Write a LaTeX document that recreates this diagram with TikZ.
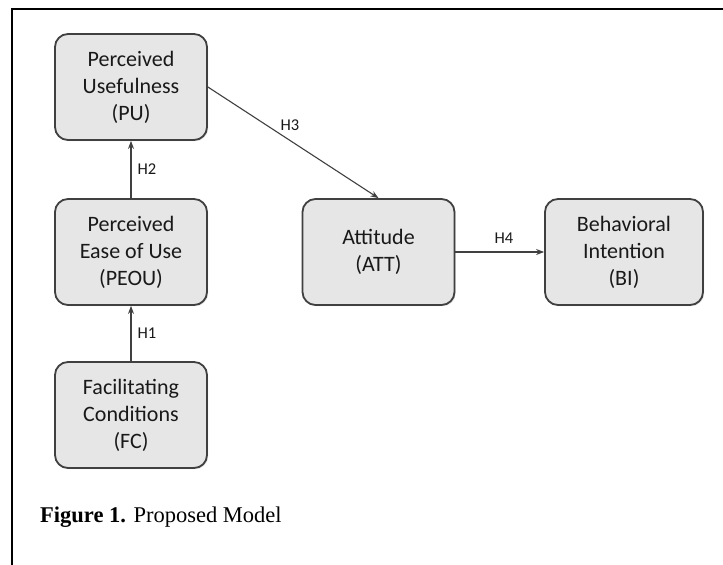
\documentclass[tikz,border=0pt]{standalone}
\usepackage{fontspec}
\setmainfont{Liberation Serif}
\newfontfamily\boxfont{Carlito}
\usetikzlibrary{arrows.meta,shadows}
\definecolor{boxfill}{HTML}{E6E6E6}
\definecolor{boxline}{HTML}{404040}
\tikzset{
  construct/.style={draw=boxline, line width=1.8pt, fill=boxfill, rounded corners=13pt,
    minimum width=152pt, minimum height=106pt, align=center, inner sep=0pt,
    font=\boxfont\fontsize{22}{27}\selectfont, text=black!90,
    drop shadow={opacity=0.25, shadow xshift=1.2pt, shadow yshift=-1.2pt}},
  link/.style={draw=black!75, line width=1.1pt, -{Stealth[length=8pt,width=6pt]}},
  hlabel/.style={font=\boxfont\fontsize{16.5}{18}\selectfont, text=black!90, inner sep=0pt}
}
\begin{document}
\begin{tikzpicture}[x=1pt,y=-1pt]
\useasboundingbox (0,0) rectangle (723,565);
\fill[white] (0,0) rectangle (723,565);
\coordinate (ftl) at (12,9);
\coordinate (ftr) at (723,9);
\coordinate (fbl) at (12,565);
\draw[line width=2.4pt, black] (ftr) -- (ftl) -- (fbl);

\node[construct] (pu)   at (131,87)  {Perceived\\Usefulness\\(PU)};
\node[construct] (peou) at (131,252) {Perceived\\Ease of Use\\(PEOU)};
\node[construct] (fc)   at (131,415) {Facilitating\\Conditions\\(FC)};
\node[construct] (att)  at (378.5,252) {Attitude\\(ATT)};
\node[construct, minimum width=158pt] (bi) at (624,252) {Behavioral\\Intention\\(BI)};

\draw[link] (peou.north) -- node[hlabel, right=6pt] {H2} (pu.south);
\draw[link] (fc.north) -- node[hlabel, right=6pt] {H1} (peou.south);
\draw[link] (pu.east) -- (att.north);
\node[hlabel] (h3) at (290,125) {H3};
\draw[link] (att.east) -- (bi.west);
\node[hlabel] (h4) at (504,238) {H4};

\node[anchor=base west, inner sep=0pt, font=\fontsize{22.5}{27}\selectfont] (cap) at (40,522)
  {\textbf{Figure 1.} Proposed Model};
\end{tikzpicture}
\end{document}
